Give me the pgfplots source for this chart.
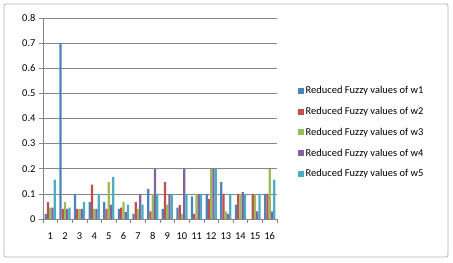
\documentclass[border=0pt]{standalone}
\usepackage{pgfplots}
\pgfplotsset{compat=1.18}
\usepackage{fontspec}
\setmainfont{Carlito}
\definecolor{c1}{HTML}{4F81BD}
\definecolor{c2}{HTML}{C0504D}
\definecolor{c3}{HTML}{9BBB59}
\definecolor{c4}{HTML}{8064A2}
\definecolor{c5}{HTML}{4BACC6}
\definecolor{gridc}{HTML}{868686}
\begin{document}
\begin{tikzpicture}
\path[use as bounding box] (-43bp,-44bp) rectangle (410bp,219bp);
\draw[gray!60, line width=0.8bp, rounded corners=2bp] (-39bp,-38bp) rectangle (405bp,215bp);
\begin{axis}[
  scale only axis, width=234bp, height=201bp,
  at={(0,0)}, anchor=south west,
  font=\fontsize{10.5}{12}\selectfont,
  ybar=0pt, bar width=2.25bp,
  xmin=0.5, xmax=16.5, ymin=0, ymax=0.8,
  xtick={1,...,16}, minor xtick={0.5,1.5,...,16.5},
  ytick={0,0.1,...,0.8},
  yticklabel style={/pgf/number format/.cd, fixed, precision=1, assume math mode=true},
  xticklabel style={/pgf/number format/assume math mode=true, yshift=-6bp},
  axis x line*=bottom, axis y line*=left,
  axis line style={gridc, line width=0.6bp, -},
  ymajorgrids, major grid style={gridc, line width=0.6bp},
  major x tick style={draw=none},
  minor x tick style={gridc, line width=0.6bp},
  minor tick length=4bp,
  major y tick style={gridc, line width=0.6bp},
  major tick length=4bp,
  tick align=outside,
  legend cell align=left,
  legend style={draw=none, at={(1.075,0.68)}, anchor=north west,
    row sep=8bp, font=\fontsize{10.5}{12}\selectfont},
  legend image code/.code={\fill[#1] (0bp,-3bp) rectangle (6bp,3bp);},
]
\addplot[fill=c1, draw=none] coordinates {(1,0.02) (2,0.7) (3,0.1) (4,0.067) (5,0.067) (6,0.04) (7,0.02) (8,0.12) (9,0.04) (10,0.045) (11,0.09) (12,0.1) (13,0.147) (14,0.057) (15,0) (16,0.1)};
\addplot[fill=c2, draw=none] coordinates {(1,0.067) (2,0.04) (3,0.04) (4,0.137) (5,0.04) (6,0.045) (7,0.067) (8,0.03) (9,0.147) (10,0.055) (11,0.02) (12,0.08) (13,0.1) (14,0.1) (15,0.1) (16,0.1)};
\addplot[fill=c3, draw=none] coordinates {(1,0.045) (2,0.067) (3,0.04) (4,0.04) (5,0.147) (6,0.067) (7,0.04) (8,0.1) (9,0.057) (10,0.02) (11,0.1) (12,0.2) (13,0.03) (14,0.1) (15,0.1) (16,0.2)};
\addplot[fill=c4, draw=none] coordinates {(1,0.045) (2,0.04) (3,0.04) (4,0.04) (5,0.057) (6,0.027) (7,0.1) (8,0.2) (9,0.1) (10,0.2) (11,0.1) (12,0.2) (13,0.02) (14,0.107) (15,0.03) (16,0.03)};
\addplot[fill=c5, draw=none] coordinates {(1,0.157) (2,0.045) (3,0.067) (4,0.1) (5,0.167) (6,0.057) (7,0.057) (8,0.1) (9,0.1) (10,0.1) (11,0.1) (12,0.2) (13,0.1) (14,0.1) (15,0.1) (16,0.157)};
\legend{Reduced Fuzzy values of w1, Reduced Fuzzy values of w2, Reduced Fuzzy values of w3, Reduced Fuzzy values of w4, Reduced Fuzzy values of w5}
\end{axis}
\end{tikzpicture}
\end{document}
